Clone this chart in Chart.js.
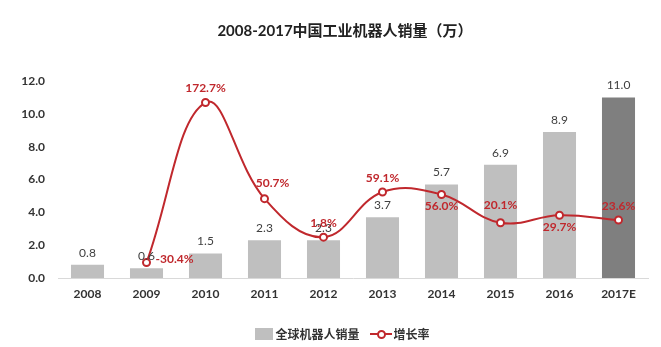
<!DOCTYPE html>
<html>
<head>
<meta charset="utf-8">
<script src="https://cdn.jsdelivr.net/npm/chart.js@4"></script>
<style>
  body { margin: 0; background: #fff; font-family: Lato, "Noto Sans CJK SC", sans-serif; }
  .wrap { position: relative; width: 661px; height: 347px; }
  .title { position: absolute; left: 0; width: 690px; top: 19px; text-align: center;
    font-size: 15px; font-weight: bold; color: #222; }
  .legend { position: absolute; left: 0; width: 685px; top: 325px; text-align: center;
    font-size: 12px; font-weight: bold; color: #333; }
  .legend span { display: inline-block; vertical-align: middle; }
  .box { width: 18px; height: 12px; background: #bfbfbf; margin-right: 2px; }
  .ln { width: 22px; height: 10px; position: relative; margin-left: 10px; margin-right: 2px; }
  .ln:before { content: ""; position: absolute; left: 0; right: 0; top: 4px; height: 2px; background: #c0282d; }
  .ln:after { content: ""; position: absolute; left: 7px; top: 1px; width: 5px; height: 5px;
    border: 2px solid #c0282d; border-radius: 50%; background: #fff; }
  canvas { position: absolute; left: 0; top: 0; }
</style>
</head>
<body>
<div class="wrap">
  <canvas id="robotChart" width="661" height="347"></canvas>
  <div class="title">2008-2017中国工业机器人销量（万）</div>
  <div class="legend"><span class="box"></span><span>全球机器人销量</span><span class="ln"></span><span>增长率</span></div>
</div>
<script>
const YEARS = ['2008', '2009', '2010', '2011', '2012', '2013', '2014', '2015', '2016', '2017E'];
const SALES = [0.8, 0.6, 1.5, 2.3, 2.3, 3.7, 5.7, 6.9, 8.9, 11.0];
const GROWTH = [null, -30.4, 172.7, 50.7, 1.8, 59.1, 56.0, 20.1, 29.7, 23.6];
const Y_TICKS = [0, 2, 4, 6, 8, 10, 12];

// where each growth label sits relative to its point
const GROWTH_ALIGN = [null, 'right', 'top', 'topright', 'top', 'top', 'bottom', 'hightop', 'bottom', 'top'];

const RED = '#c0282d';

// labels on bars and line points
const valueLabels = {
  id: 'valueLabels',
  afterDatasetsDraw(chart) {
    const ctx = chart.ctx;
    ctx.save();
    ctx.textAlign = 'center';
    ctx.textBaseline = 'middle';

    const bars = chart.getDatasetMeta(0).data;
    ctx.font = '12px Lato, sans-serif';
    ctx.fillStyle = '#404040';
    bars.forEach((bar, i) => {
      ctx.fillText(SALES[i].toFixed(1), bar.x, bar.y - 12);
    });

    const pts = chart.getDatasetMeta(1).data;
    ctx.font = 'bold 12px Lato, sans-serif';
    ctx.fillStyle = RED;
    pts.forEach((p, i) => {
      if (GROWTH[i] === null) return;
      const txt = GROWTH[i].toFixed(1) + '%';
      let x = p.x, y = p.y;
      const a = GROWTH_ALIGN[i];
      if (a === 'top') y -= 14;
      else if (a === 'hightop') y -= 18;
      else if (a === 'bottom') y += 12;
      else if (a === 'topright') { x += 8; y -= 16; }
      else if (a === 'right') { ctx.textAlign = 'left'; x += 9; y -= 3; }
      ctx.fillText(txt, x, y);
      ctx.textAlign = 'center';
    });
    ctx.restore();
  }
};

const ctx = document.getElementById('robotChart');
const robotChart = new Chart(ctx, {
  data: {
    labels: YEARS,
    datasets: [{
      type: 'bar',
      label: '全球机器人销量',
      data: SALES,
      backgroundColor: SALES.map((v, i) => i === SALES.length - 1 ? '#7f7f7f' : '#bfbfbf'),
      barPercentage: 0.7,
      categoryPercentage: 0.8,
      yAxisID: 'y',
      order: 2
    }, {
      type: 'line',
      label: '增长率',
      data: GROWTH,
      borderColor: RED,
      borderWidth: 2,
      tension: 0.4,
      pointRadius: 3.5,
      pointBorderWidth: 2,
      pointBackgroundColor: '#fff',
      pointBorderColor: RED,
      yAxisID: 'y2',
      order: 1
    }]
  },
  options: {
    responsive: false,
    animation: false,
    layout: { padding: { top: 81, bottom: 39, left: 0, right: 13 } },
    plugins: { legend: { display: false }, title: { display: false }, tooltip: { enabled: false } },
    scales: {
      x: {
        grid: { display: false, drawTicks: false },
        border: { color: '#d9d9d9', width: 1 },
        ticks: { padding: 9, color: '#333', font: { family: 'Lato', size: 12, weight: 'bold' } },
        afterFit(scale) { scale.height = 30; }
      },
      y: {
        min: 0, max: 12,
        grid: { display: false, drawTicks: false },
        border: { display: false },
        afterBuildTicks(scale) { scale.ticks = Y_TICKS.map(v => ({ value: v })); },
        ticks: {
          padding: 13, color: '#333',
          font: { family: 'Lato', size: 12, weight: 'bold' },
          callback: v => v.toFixed(1)
        },
        afterFit(scale) { scale.width = 58; }
      },
      y2: {
        min: -50, max: 200,
        display: false
      }
    }
  },
  plugins: [valueLabels]
});
</script>
</body>
</html>
